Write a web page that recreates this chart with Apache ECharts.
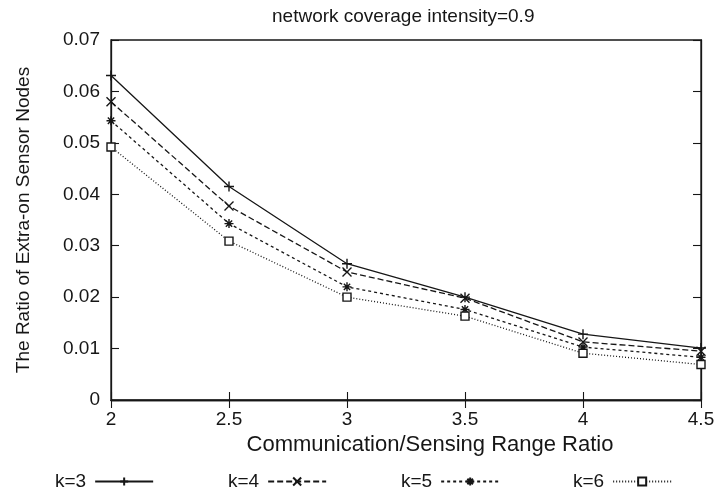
<!DOCTYPE html>
<html>
<head>
<meta charset="utf-8">
<script src="https://cdn.jsdelivr.net/npm/echarts@6/dist/echarts.min.js"></script>
<style>
  html, body { margin: 0; padding: 0; background: #fff; }
  #chart { width: 718px; height: 496px; }
</style>
</head>
<body>
<div id="chart"></div>
<script>
// Communication/sensing range ratio (x axis)
const ratios = [2, 2.5, 3, 3.5, 4, 4.5];
// Ratio of extra-on sensor nodes for each k
const k3 = [0.0631, 0.0415, 0.0265, 0.0200, 0.0128, 0.0101];
const k4 = [0.0580, 0.0377, 0.0249, 0.0198, 0.0113, 0.0095];
const k5 = [0.0543, 0.0343, 0.0220, 0.0176, 0.0103, 0.0083];
const k6 = [0.0492, 0.0309, 0.0200, 0.0163, 0.0091, 0.0069];
const seriesNames = ['k=3', 'k=4', 'k=5', 'k=6'];

const FONT = '"Liberation Sans", Arial, Helvetica, sans-serif';
const INK = '#161616';

const plusSym = 'path://M5,0L5,10M0,5L10,5';
const crossSym = 'path://M0,0L10,10M10,0L0,10';
const starSym = 'path://M5,0L5,10M0,5L10,5M1.5,1.5L8.5,8.5M8.5,1.5L1.5,8.5';

function pairs(ys) { return ratios.map((x, i) => [x, ys[i]]); }

function makeSeries(name, ys, symbol, size, dash, filled) {
  return {
    name: name,
    type: 'line',
    data: pairs(ys),
    symbol: symbol,
    symbolSize: size,
    showAllSymbol: true,
    lineStyle: { color: INK, width: 1.3, type: dash },
    itemStyle: {
      color: filled ? '#fff' : 'none',
      borderColor: INK,
      borderWidth: 1.4
    },
    emphasis: { disabled: true },
    animation: false
  };
}

const tickStyle = { inside: true, length: 8, lineStyle: { color: INK, width: 1.1 } };
const lineAxis = { show: true, lineStyle: { color: INK, width: 1.3 } };
const labelStyle = { color: INK, fontFamily: FONT, fontSize: 19 };

function legendAt(name, left) {
  return {
    data: [name],
    left: left,
    top: 467,
    align: 'right',
    itemWidth: 58,
    itemHeight: 10,
    selectedMode: false,
    textStyle: { color: INK, fontFamily: FONT, fontSize: 19, padding: [0, 4, 0, 0] }
  };
}

const chart = echarts.init(document.getElementById('chart'));
chart.setOption({
  backgroundColor: '#fff',
  animation: false,
  title: {
    text: 'network coverage intensity=0.9',
    left: 267,
    top: 2,
    textStyle: { color: INK, fontFamily: FONT, fontSize: 19, fontWeight: 'normal' }
  },
  legend: [
    legendAt(seriesNames[0], 50),
    legendAt(seriesNames[1], 223),
    legendAt(seriesNames[2], 396),
    legendAt(seriesNames[3], 568)
  ],
  grid: { left: 111, right: 17, top: 40, bottom: 96, show: true, borderColor: INK, borderWidth: 1.3 },
  xAxis: [
    {
      type: 'value', min: 2, max: 4.5, interval: 0.5,
      name: 'Communication/Sensing Range Ratio',
      nameLocation: 'middle', nameGap: 25,
      nameTextStyle: { color: INK, fontFamily: FONT, fontSize: 22, padding: [0, 0, 0, 48] },
      axisLine: lineAxis, axisTick: tickStyle,
      axisLabel: Object.assign({ margin: 10 }, labelStyle),
      splitLine: { show: false }
    },
    {
      type: 'value', position: 'top', min: 2, max: 4.5, interval: 0.5,
      axisLine: lineAxis, axisTick: tickStyle,
      axisLabel: { show: false }, splitLine: { show: false }
    }
  ],
  yAxis: [
    {
      type: 'value', min: 0, max: 0.07, interval: 0.01,
      name: 'The Ratio of Extra-on Sensor Nodes',
      nameLocation: 'middle', nameGap: 78, nameRotate: 90,
      nameTextStyle: { color: INK, fontFamily: FONT, fontSize: 19 },
      axisLine: lineAxis, axisTick: tickStyle,
      axisLabel: Object.assign({ margin: 11 }, labelStyle),
      splitLine: { show: false }
    },
    {
      type: 'value', position: 'right', min: 0, max: 0.07, interval: 0.01,
      axisLine: lineAxis, axisTick: tickStyle,
      axisLabel: { show: false }, splitLine: { show: false }
    }
  ],
  series: [
    makeSeries(seriesNames[0], k3, plusSym, 10, 'solid', false),
    makeSeries(seriesNames[1], k4, crossSym, 9, [6, 3], false),
    makeSeries(seriesNames[2], k5, starSym, 9, [3, 3], false),
    makeSeries(seriesNames[3], k6, 'rect', 8, [1, 2], true)
  ]
});
</script>
</body>
</html>
